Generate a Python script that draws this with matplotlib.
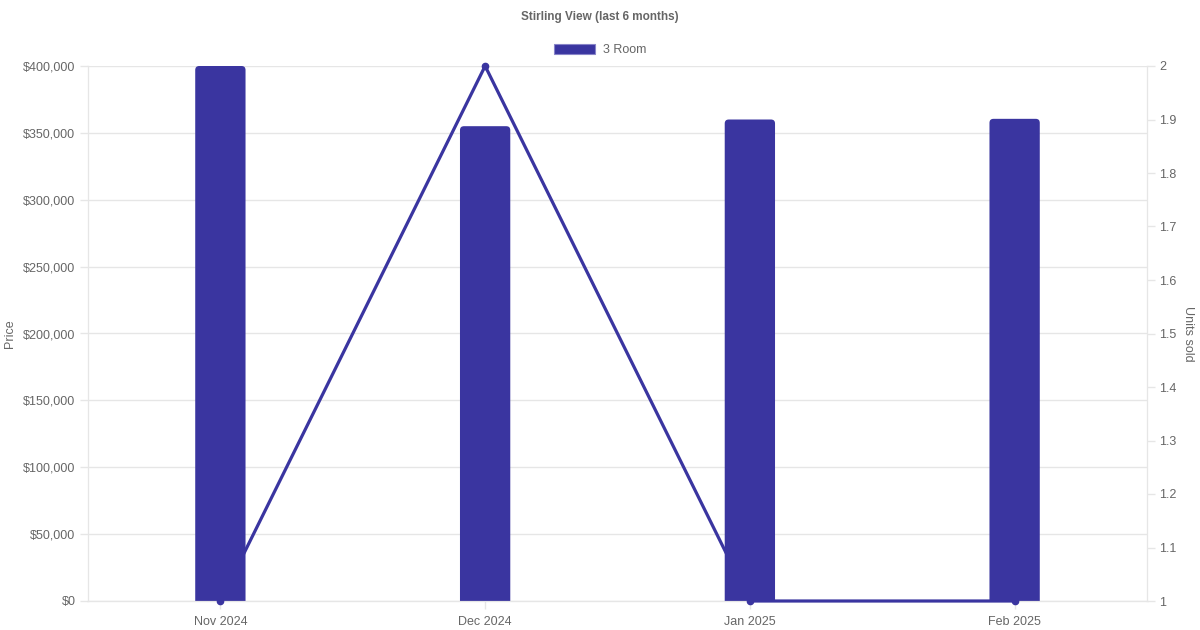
import matplotlib.pyplot as plt
from matplotlib.patches import FancyBboxPatch, Patch
from matplotlib.ticker import FuncFormatter, MultipleLocator

plt.rcParams['font.family'] = ['Liberation Sans', 'DejaVu Sans']

# Data
months = ["Nov 2024", "Dec 2024", "Jan 2025", "Feb 2025"]
price = [400000, 355000, 360000, 360500]
units_sold = [1, 2, 1, 1]

bar_color = '#3a35a0'
text_color = '#666666'
grid_color = '#e6e6e6'

fig = plt.figure(figsize=(12, 6.3), dpi=100)
ax = fig.add_axes([88 / 1200, 1 - 601 / 630, (1147 - 88) / 1200, (601 - 66) / 630])
ax2 = ax.twinx()

x = list(range(len(months)))
bars = ax.bar(x, price, width=0.19, color=bar_color, zorder=2)

# swap plain bars for ones with rounded top corners
px_x = 1 / 264.75
px_y = 400000 / 535
for b in bars:
    b.set_visible(False)
    r = 4 * px_x
    fb = FancyBboxPatch((b.get_x(), -4 * px_y), b.get_width(), b.get_height() + 4 * px_y,
                        boxstyle=f"round,pad=0,rounding_size={r}",
                        mutation_aspect=(4 * px_y) / r,
                        facecolor=bar_color, edgecolor='none', zorder=2, clip_on=True)
    ax.add_patch(fb)

ax2.plot(x, units_sold, color=bar_color, linewidth=2.3, marker='o', markersize=4.5,
         zorder=3, clip_on=False)

ax.set_xlim(-0.5, len(months) - 0.5)
ax.set_ylim(0, 400000)
ax2.set_ylim(1, 2)
ax.yaxis.set_major_locator(MultipleLocator(50000))
ax2.yaxis.set_major_locator(MultipleLocator(0.1))
ax.yaxis.set_major_formatter(FuncFormatter(lambda v, p: f"${v:,.0f}"))
ax2.yaxis.set_major_formatter(FuncFormatter(lambda v, p: f"{v:g}"))

ax.set_xticks(x)
ax.set_xticklabels(months)
ax.grid(axis='y', color=grid_color, linewidth=1, zorder=0)
ax.set_axisbelow(True)

for a in (ax, ax2):
    a.tick_params(colors=text_color, labelsize=9, length=6, width=1, pad=3)
    a.tick_params(axis='both', color=grid_color)
    for s in a.spines.values():
        s.set_color(grid_color)
    a.spines['top'].set_visible(False)
ax.spines['bottom'].set_color('#cccccc')
ax.tick_params(axis='x', length=6, pad=5)

ax.set_ylabel('Price', color=text_color, fontsize=9)
ax.yaxis.set_label_coords((16 - 88) / 1059, 0.5)
ax2.set_ylabel('Units sold', color=text_color, fontsize=9, rotation=270, va='center')
ax2.yaxis.set_label_coords((1188 - 88) / 1059, 0.5)

fig.text(0.5, 1 - 17 / 630, 'Stirling View (last 6 months)', ha='center', va='center',
         fontsize=8.5, fontweight='bold', color=text_color)
handle = Patch(facecolor=bar_color, edgecolor='#8884c8', linewidth=0.8, label='3 Room')
fig.legend(handles=[handle], loc='center', bbox_to_anchor=(0.5, 1 - 50 / 630), frameon=False,
           handlelength=3.3, handleheight=0.9, fontsize=9, labelcolor=text_color,
           handletextpad=0.6)

fig.savefig('out.png', dpi=100)
